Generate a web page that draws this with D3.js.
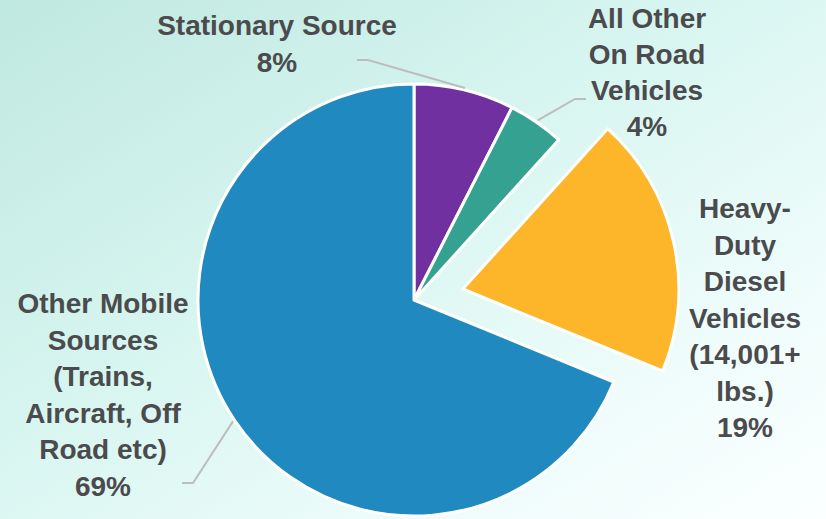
<!DOCTYPE html>
<html>
<head>
<meta charset="utf-8">
<script src="https://cdn.jsdelivr.net/npm/d3@7"></script>
<style>
  html, body { margin: 0; padding: 0; overflow: hidden; }
  body { width: 826px; height: 519px; }
  text { font-family: "Liberation Sans", Arial, sans-serif; font-weight: bold; fill: #4b4b4d; }
</style>
</head>
<body>
<svg id="chart" width="826" height="519"></svg>
<script>
// ---- data ----
const categories = [
  "Stationary Source",
  "All Other On Road Vehicles",
  "Heavy-Duty Diesel Vehicles (14,001+ lbs.)",
  "Other Mobile Sources (Trains, Aircraft, Off Road etc)"
];
const values = [7.5, 4.2, 19.5, 68.8];
const percentLabels = ["8%", "4%", "19%", "69%"];
const labelLines = [
  ["Stationary Source"],
  ["All Other", "On Road", "Vehicles"],
  ["Heavy-", "Duty", "Diesel", "Vehicles", "(14,001+", "lbs.)"],
  ["Other Mobile", "Sources", "(Trains,", "Aircraft, Off", "Road etc)"]
];
const colors = ["#7030a0", "#35a291", "#fdb62a", "#2089bf"];

// ---- layout ----
const W = 826, H = 519;
const cx = 414, cy = 300, R = 216;
const explode = [0, 0, 50, 0];
const labelPos = [
  { x: 277, y: 35, lh: 37 },
  { x: 647, y: 28, lh: 36 },
  { x: 745, y: 218, lh: 36.5 },
  { x: 103, y: 313, lh: 36.5 }
];
// leader lines: elbow and end points (null = no leader)
const leaders = [
  { elbow: [368, 60], end: [357, 60] },
  { elbow: [575, 99], end: [586, 99] },
  null,
  { elbow: [193, 483], end: [182, 483] }
];

const svg = d3.select("#chart");

// background gradient
const defs = svg.append("defs");
const grad = defs.append("linearGradient").attr("id", "bg")
  .attr("x1", "0").attr("y1", "0").attr("x2", "1").attr("y2", "1");
grad.append("stop").attr("offset", "0").attr("stop-color", "#bfe8e0");
grad.append("stop").attr("offset", "0.45").attr("stop-color", "#d9f6f1");
grad.append("stop").attr("offset", "0.75").attr("stop-color", "#eefcfb");
grad.append("stop").attr("offset", "1").attr("stop-color", "#fbffff");
svg.append("rect").attr("width", W).attr("height", H).attr("fill", "url(#bg)");

const pie = d3.pie().sort(null).value(d => d)
  .startAngle(0).endAngle(2 * Math.PI);
const arcs = pie(values);
const arc = d3.arc().innerRadius(0).outerRadius(R);

const g = svg.append("g").attr("transform", `translate(${cx},${cy})`);

g.selectAll("path.slice").data(arcs).enter().append("path")
  .attr("class", "slice")
  .attr("d", arc)
  .attr("fill", (d, i) => colors[i])
  .attr("stroke", "#ffffff")
  .attr("stroke-width", 3)
  .attr("stroke-linejoin", "round")
  .attr("transform", (d, i) => {
    const a = (d.startAngle + d.endAngle) / 2;
    const o = explode[i];
    return `translate(${o * Math.sin(a)},${-o * Math.cos(a)})`;
  });

// leader lines
arcs.forEach((d, i) => {
  const L = leaders[i];
  if (!L) return;
  const a = (d.startAngle + d.endAngle) / 2;
  const r0 = R + 2;
  const p0 = [cx + r0 * Math.sin(a), cy - r0 * Math.cos(a)];
  svg.append("polyline")
    .attr("points", [p0, L.elbow, L.end].map(p => p.join(",")).join(" "))
    .attr("fill", "none")
    .attr("stroke", "#bdbdbd")
    .attr("stroke-width", 2);
});

// labels
labelLines.forEach((lines, i) => {
  const P = labelPos[i];
  const t = svg.append("text")
    .attr("text-anchor", "middle")
    .attr("font-size", 28);
  lines.concat([percentLabels[i]]).forEach((s, k) => {
    t.append("tspan").attr("x", P.x).attr("y", P.y + k * P.lh).text(s);
  });
});
</script>
</body>
</html>
